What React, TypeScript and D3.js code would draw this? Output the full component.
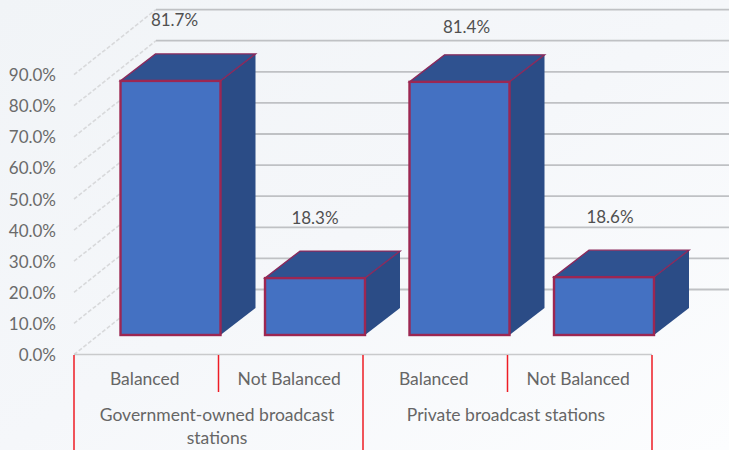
import React from "react";
import * as d3 from "d3";

const groups = ["Government-owned broadcast stations", "Private broadcast stations"];
const categories = ["Balanced", "Not Balanced", "Balanced", "Not Balanced"];
const values = [81.7, 18.3, 81.4, 18.6];
const valueLabels = ["81.7%", "18.3%", "81.4%", "18.6%"];
const ticks = [0, 10, 20, 30, 40, 50, 60, 70, 80, 90];
const groupLines = [["Government-owned broadcast", "stations"], ["Private broadcast stations"]];

const W = 729, H = 450;
const FONT = "Lato, Carlito, sans-serif";
const labelNudge = [[4, -61], [0, -60], [7, -55], [6, -60]];
const depth = { dx: 82, dy: 65 };
const barDepth = { dx: 35, dy: 27 };
const barLift = 19.5;

export default function App() {
  const y = d3.scaleLinear().domain([0, 90]).range([354.5, 74.6]);
  const x = d3.scaleBand<number>().domain(d3.range(categories.length)).range([74, 652]).padding(0);
  const gx = d3.scaleBand<number>().domain(d3.range(groups.length)).range([74, 652]).padding(0);
  const line = d3.line();
  const barW = 100, barInset = 46.5;

  return (
    <svg width={W} height={H} style={{ position: "absolute", left: 0, top: 0 }} fontFamily={FONT}>
      <defs>
        <linearGradient id="bg" x1="0" y1="0" x2="1" y2="1">
          <stop offset="0" stopColor="#f1f4f7" />
          <stop offset="0.5" stopColor="#f5f7fa" />
          <stop offset="1" stopColor="#fcfdfe" />
        </linearGradient>
      </defs>
      <rect width={W} height={H} fill="url(#bg)" />

      {ticks.map((t) => (
        <g key={t}>
          <line x1={depth.dx + 74} x2={W} y1={y(t) - depth.dy} y2={y(t) - depth.dy}
            stroke="#bfc1c4" strokeWidth={1.8} />
          <path d={line([[74, y(t)], [74 + depth.dx, y(t) - depth.dy]])!} fill="none"
            stroke="#d8d9db" strokeWidth={1.6} strokeDasharray="4 2" />
          <text x={56} y={y(t) + 6.5} textAnchor="end" fontSize={17} fill="#6a6a6a">{t.toFixed(1)}%</text>
        </g>
      ))}

      <line x1={74} x2={652} y1={354.5} y2={354.5} stroke="#c9cacc" strokeWidth={1.5} />

      {values.map((v, i) => {
        const x0 = x(i)! + barInset;
        const x1 = x0 + barW;
        const top = y(v) - barLift;
        const bottom = y(0) - barLift;
        const dx = barDepth.dx, dy = barDepth.dy;
        return (
          <g key={i}>
            <path d={line([[x1, top], [x1 + dx, top - dy], [x1 + dx, bottom - dy], [x1, bottom]])! + "Z"} fill="#2b4c86" />
            <path d={line([[x0, top], [x0 + dx, top - dy], [x1 + dx, top - dy], [x1, top]])! + "Z"} fill="#2f5290"
              stroke="#8a2a5c" strokeWidth={1.4} />
            <rect x={x0} y={top} width={barW} height={bottom - top} fill="#4471c2" stroke="#9c2752" strokeWidth={2.4} />
            <text x={x0 + barW / 2 + labelNudge[i][0]} y={top + labelNudge[i][1] + 6} textAnchor="middle"
              fontSize={17} fill="#505050">{valueLabels[i]}</text>
          </g>
        );
      })}

      {categories.map((c, i) => (
        <text key={i} x={x(i)! + x.bandwidth() / 2 - 1.5} y={385} textAnchor="middle" fontSize={17.5} fill="#666">{c}</text>
      ))}
      {groupLines.map((lines, g) => (
        <text key={g} textAnchor="middle" fontSize={17.5} fill="#666">
          {lines.map((l, j) => (
            <tspan key={j} x={gx(g)! + gx.bandwidth() / 2 - 1.5} y={421 + j * 23}>{l}</tspan>
          ))}
        </text>
      ))}

      {d3.range(categories.length + 1).map((i) => {
        const xp = i < categories.length ? x(i)! : 652;
        const major = i % 2 === 0;
        return <line key={i} x1={xp} x2={xp} y1={355} y2={major ? H : 392} stroke="#ee1c25" strokeWidth={1.5} />;
      })}
    </svg>
  );
}
